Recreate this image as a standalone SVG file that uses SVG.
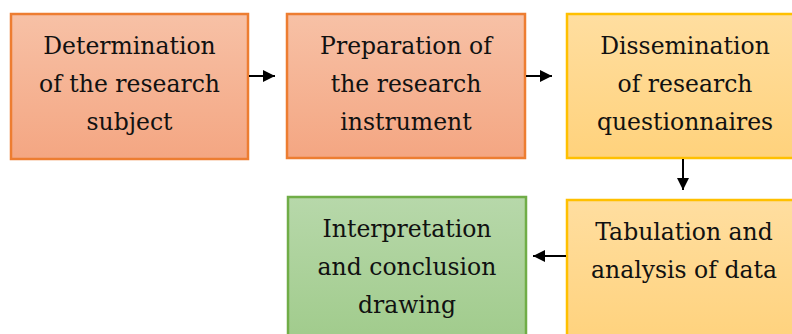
<svg xmlns="http://www.w3.org/2000/svg" width="792" height="334" viewBox="0 0 792 334">
<defs>
<linearGradient id="gO" x1="0" y1="0" x2="0" y2="1"><stop offset="0" stop-color="#f7c1a6"/><stop offset="1" stop-color="#f4a682"/></linearGradient>
<linearGradient id="gY" x1="0" y1="0" x2="0" y2="1"><stop offset="0" stop-color="#ffdea0"/><stop offset="1" stop-color="#ffd27c"/></linearGradient>
<linearGradient id="gG" x1="0" y1="0" x2="0" y2="1"><stop offset="0" stop-color="#b7d8aa"/><stop offset="1" stop-color="#a0cb8b"/></linearGradient>
<marker id="ah" viewBox="0 0 12 12" refX="12" refY="6" markerWidth="12" markerHeight="12" markerUnits="userSpaceOnUse" orient="auto"><path d="M0,0 L12,6 L0,12 z" fill="#000"/></marker>
</defs>
<style>
.o{fill:url(#gO);stroke:#ed7d31;stroke-width:2.5}
.y{fill:url(#gY);stroke:#ffc000;stroke-width:2.5}
.g{fill:url(#gG);stroke:#70ad47;stroke-width:2.5}
text{font-family:"DejaVu Serif","Liberation Serif",serif;font-size:23.5px;fill:#111;text-anchor:middle}
.c{stroke:#000;stroke-width:2;fill:none;marker-end:url(#ah)}
</style>
<g id="n1"><rect class="o" x="11" y="14" width="237" height="145"/>
<text x="129.5" y="54">Determination</text><text x="129.5" y="92">of the research</text><text x="129.5" y="130">subject</text></g>
<g id="n2"><rect class="o" x="287" y="14" width="238" height="144"/>
<text x="406" y="54">Preparation of</text><text x="406" y="92">the research</text><text x="406" y="130">instrument</text></g>
<g id="n3"><rect class="y" x="567" y="14" width="236" height="144"/>
<text x="685" y="54">Dissemination</text><text x="685" y="92">of research</text><text x="685" y="130">questionnaires</text></g>
<g id="n4"><rect class="y" x="567" y="200" width="236" height="145"/>
<text x="684" y="240">Tabulation and</text><text x="684" y="278">analysis of data</text></g>
<g id="n5"><rect class="g" x="288" y="197" width="238" height="148"/>
<text x="407" y="237">Interpretation</text><text x="407" y="275">and conclusion</text><text x="407" y="313">drawing</text></g>
<g id="connectors">
<line class="c" x1="249" y1="76" x2="275" y2="76"/>
<line class="c" x1="526" y1="76" x2="552" y2="76"/>
<line class="c" x1="683" y1="159" x2="683" y2="190"/>
<line class="c" x1="566" y1="256" x2="533" y2="256"/>
</g>
</svg>
